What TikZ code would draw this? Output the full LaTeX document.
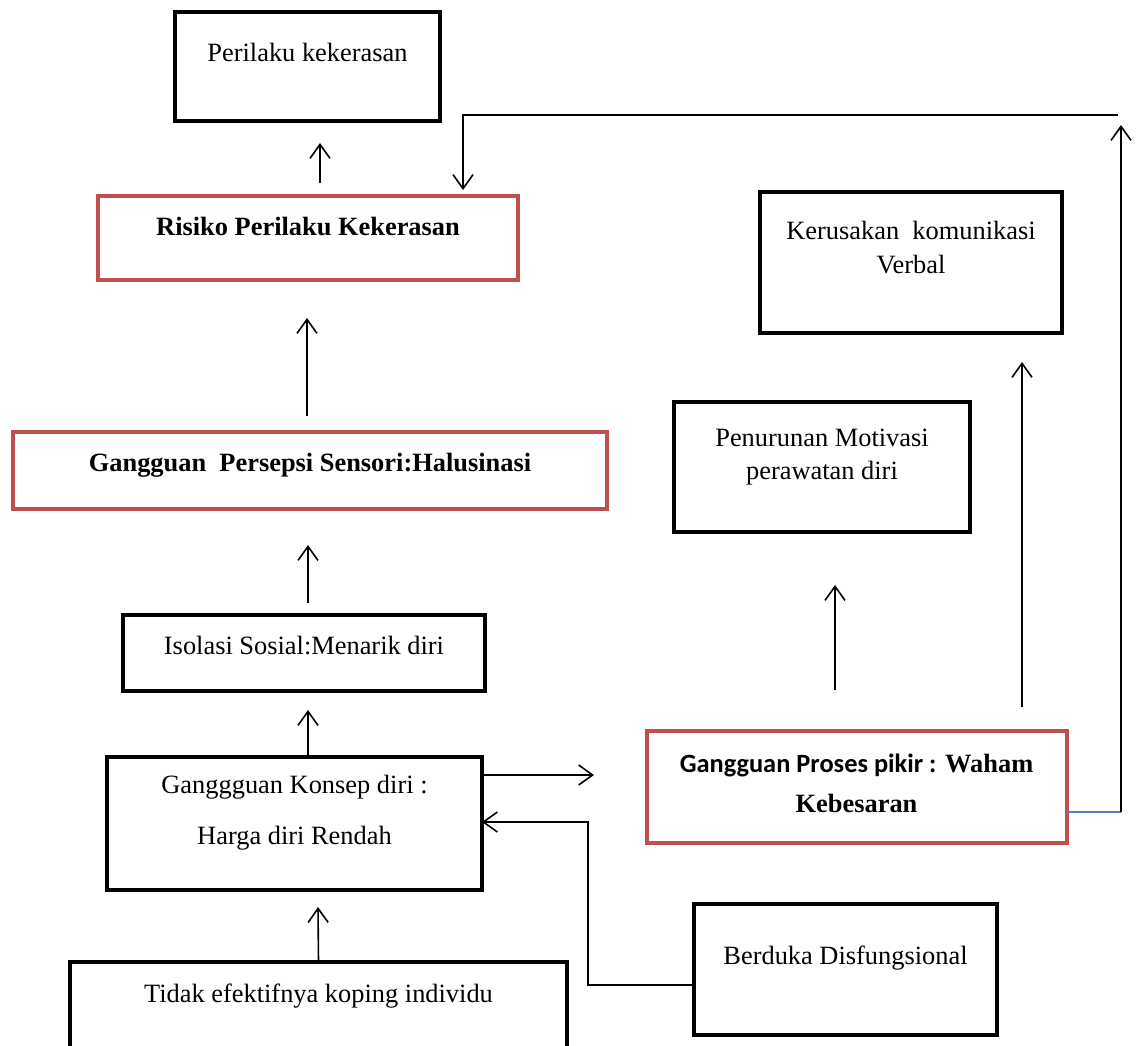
\documentclass[tikz,border=0pt]{standalone}
\usepackage{fontspec}
\setmainfont{Liberation Serif}
\newfontfamily\carlito{Carlito}
\usepackage{xcolor}
\usepackage{tikz}
\usetikzlibrary{arrows.meta,calc}
\definecolor{wred}{HTML}{C0504D}
\definecolor{wblue}{HTML}{4F81BD}

\begin{document}
\begin{tikzpicture}[
  x=1pt, y=-1pt,
  font=\fontsize{26.4}{33}\selectfont,
  box/.style={draw=black, line width=4.5pt, inner sep=0pt, outer sep=0pt,
    align=center, text height=19.8pt},
  redbox/.style={box, draw=wred, line width=4pt, font=\fontsize{26.4}{33}\selectfont\bfseries},
  flow/.style={-{Straight Barb[length=14pt,width=20pt]}, line width=1.6pt},
  ]
  \useasboundingbox (0,0) rectangle (1139,1045);
  \clip (0,0) rectangle (1139,1045);

  % left column
  \node[box, minimum width=265pt, minimum height=109pt, text depth=30.3pt] (perilaku) at (307.5,66.5) {Perilaku kekerasan};
  \node[redbox, minimum width=420pt, minimum height=84pt, text depth=25.3pt] (risk) at (308,238) {Risiko Perilaku Kekerasan};
  \node[redbox, minimum width=594pt, minimum height=77pt, text depth=18.3pt] (persepsi) at (310,470.5) {Gangguan\ \ Persepsi Sensori:Halusinasi};
  \node[box, minimum width=362pt, minimum height=76pt, text depth=17.3pt] (isolasi) at (304,653) {Isolasi Sosial:Menarik diri};
  \node[box, minimum width=375pt, minimum height=133pt, text height=50pt, text depth=8.5pt,
    font=\fontsize{26.4}{51}\selectfont] (konsep) at (294.5,823.5) {Ganggguan Konsep diri :\\Harga diri Rendah};
  \node[box, minimum width=497pt, minimum height=98pt, text depth=37.3pt] (tidak) at (318.5,1011) {Tidak efektifnya koping individu};

  % right column
  \node[box, minimum width=302pt, minimum height=141pt, text height=40pt, text depth=18.5pt,
    font=\fontsize{26.4}{34}\selectfont] (kerusakan) at (911,262.5) {Kerusakan\ \ komunikasi\\Verbal};
  \node[box, minimum width=296pt, minimum height=130pt, text height=40pt, text depth=15.5pt] (penurunan) at (822,467) {Penurunan Motivasi\\perawatan diri};
  \node[redbox, minimum width=420pt, minimum height=112pt, text height=60pt, text depth=9.5pt,
    font=\fontsize{26.4}{40}\selectfont\bfseries] (waham) at (856.5,787) {{\carlito Gangguan Proses pikir :} Waham\\Kebesaran};
  \node[box, minimum width=303pt, minimum height=131pt, text depth=30.3pt] (berduka) at (845.5,969.5) {Berduka Disfungsional};

  % upward chain on the left
  \draw[flow] ([xshift=12pt,yshift=13pt]risk.north) -- ([xshift=12.5pt,yshift=-22pt]perilaku.south);
  \draw[flow] ([xshift=-3pt,yshift=16pt]persepsi.north) -- ([xshift=-1pt,yshift=-38pt]risk.south);
  \draw[flow] ([xshift=4pt,yshift=12pt]isolasi.north) -- ([xshift=-2pt,yshift=-36pt]persepsi.south);
  \draw[flow] ([xshift=13.5pt]konsep.north) -- ([xshift=4pt,yshift=-19pt]isolasi.south);
  \draw[flow] (tidak.north) -- ([xshift=23.5pt,yshift=-17pt]konsep.south);

  % konsep diri to waham
  \coordinate (kout) at ([yshift=48.5pt]konsep.east);
  \draw[flow, shorten >=52.5pt] (kout) -- (kout -| waham.west);

  % berduka back into konsep diri
  \coordinate (bend) at (588,822);
  \draw[flow] ([yshift=-15.5pt]berduka.west) -| (bend) -- (bend -| konsep.east);

  % waham upward
  \draw[flow] ([xshift=-21.5pt,yshift=41pt]waham.north) -- ([xshift=13pt,yshift=-53pt]penurunan.south);
  \draw[flow] ([xshift=165.5pt,yshift=24pt]waham.north) -- ([xshift=111pt,yshift=-29pt]kerusakan.south);

  % loop round the right edge
  \coordinate (rgt) at (1121,812);
  \coordinate (rgttop) at (1121,125);
  \draw[wblue, line width=2pt] (waham.east |- rgt) -- (rgt);
  \draw[flow] (rgt) -- (rgttop);
  \coordinate (fbr) at (1118,115);
  \coordinate (fbl) at (463,115);
  \draw[flow, shorten >=6pt] (fbr) -- (fbl) -- (fbl |- risk.north);
\end{tikzpicture}
\end{document}
